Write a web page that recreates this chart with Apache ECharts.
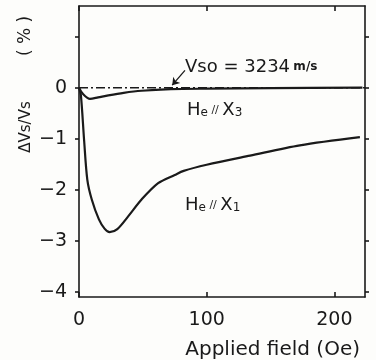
<!DOCTYPE html>
<html>
<head>
<meta charset="utf-8">
<script src="https://cdn.jsdelivr.net/npm/echarts@6/dist/echarts.min.js"></script>
<style>
  html, body { margin: 0; padding: 0; background: #fdfdfb; }
  #chart { width: 376px; height: 360px; }
</style>
</head>
<body>
<div id="chart"></div>
<script>
// He // X1 curve
const fieldX1 = [0, 1.5, 4, 6.5, 10, 15.6, 20, 24, 30, 38.5, 49, 62, 75, 82, 100, 134, 173, 220];
const dvX1 = [0, -0.15, -1.03, -1.8, -2.19, -2.58, -2.76, -2.83, -2.77, -2.52, -2.19, -1.87, -1.71, -1.63, -1.51, -1.33, -1.13, -0.97];

// He // X3 curve
const fieldX3 = [0, 3, 8.6, 15, 23, 35, 49, 72, 100, 150, 222];
const dvX3 = [0, -0.12, -0.22, -0.19, -0.15, -0.1, -0.06, -0.03, -0.02, -0.01, 0];

// reference level (Vs0)
const refField = [0, 224];
const refValue = [0, 0];

const xTicks = [0, 100, 200];
const yTicks = [1, 0, -1, -2, -3, -4];
const yLabels = [0, -1, -2, -3, -4];

const zip = (a, b) => a.map((v, i) => [v, b[i]]);
const fmtY = v => (v < 0 ? '\u2212' + (-v) : String(v));

const chart = echarts.init(document.getElementById('chart'));
const ink = '#1a1a1a';
const font = 'DejaVu Sans';

const axisBase = {
  axisLine: { show: true, onZero: false, lineStyle: { color: ink, width: 1.6 } },
  splitLine: { show: false }
};

const option = {
  backgroundColor: '#fdfdfb',
  animation: false,
  grid: { left: 79, right: 11, top: 6, bottom: 63 },
  xAxis: [
    Object.assign({}, axisBase, {
      type: 'value', position: 'bottom', min: 0, max: 224,
      axisTick: { inside: true, length: 5, customValues: xTicks, lineStyle: { color: ink, width: 1.6 } },
      axisLabel: { customValues: xTicks, color: ink, fontFamily: font, fontSize: 19, margin: 14 }
    }),
    Object.assign({}, axisBase, {
      type: 'value', position: 'top', min: 0, max: 224,
      axisTick: { inside: true, length: 5, customValues: xTicks, lineStyle: { color: ink, width: 1.6 } },
      axisLabel: { show: false }
    })
  ],
  yAxis: [
    Object.assign({}, axisBase, {
      type: 'value', position: 'left', min: -4.1, max: 1.6,
      axisTick: { inside: false, length: 4, customValues: yTicks, lineStyle: { color: ink, width: 1.6 } },
      axisLabel: { customValues: yLabels, formatter: fmtY, color: ink, fontFamily: font, fontSize: 19, margin: 12 }
    }),
    Object.assign({}, axisBase, {
      type: 'value', position: 'right', min: -4.1, max: 1.6,
      axisTick: { inside: false, length: 4, customValues: yTicks, lineStyle: { color: ink, width: 1.6 } },
      axisLabel: { show: false }
    })
  ],
  series: [
    {
      name: 'Vs0', type: 'line', data: zip(refField, refValue), symbol: 'none',
      lineStyle: { color: ink, width: 1.6, type: [9, 3, 2, 3] },
      markLine: {
        silent: true, symbol: ['none', 'arrow'], symbolSize: 7,
        label: { show: false },
        lineStyle: { color: ink, width: 1.3, type: 'solid' },
        data: [[{ coord: [83, 0.34] }, { coord: [73, 0.05] }]]
      }
    },
    {
      name: 'He // X3', type: 'line', data: zip(fieldX3, dvX3), symbol: 'none', smooth: 0.3,
      lineStyle: { color: ink, width: 2.2 }
    },
    {
      name: 'He // X1', type: 'line', data: zip(fieldX1, dvX1), symbol: 'none', smooth: 0.3,
      lineStyle: { color: ink, width: 2.2 }
    }
  ],
  graphic: [
    { type: 'text', x: 26, y: 127, rotation: Math.PI / 2,
      style: { text: '\u0394Vs/Vs', font: '15px ' + font, fill: ink, align: 'center', verticalAlign: 'middle' } },
    { type: 'text', x: 26, y: 36, rotation: Math.PI / 2,
      style: { text: '( % )', font: '17px ' + font, fill: ink, align: 'center', verticalAlign: 'middle' } },
    { type: 'text', x: 360, y: 350,
      style: { text: 'Applied field (Oe)', font: '20px ' + font, fill: ink, align: 'right', verticalAlign: 'middle' } },
    { type: 'text', x: 185, y: 67,
      style: {
        text: '{a|Vso = 3234} {b|m/s}', fill: ink, align: 'left', verticalAlign: 'middle',
        rich: {
          a: { fontFamily: font, fontSize: 18, fill: ink },
          b: { fontFamily: font, fontSize: 12, fontWeight: 'bold', fill: ink }
        }
      } },
    { type: 'text', x: 187, y: 110,
      style: {
        text: '{a|H}{s|e}{p| // }{a|X}{s|3}', fill: ink, align: 'left', verticalAlign: 'middle',
        rich: {
          a: { fontFamily: font, fontSize: 18, fill: ink },
          s: { fontFamily: font, fontSize: 12, fill: ink, verticalAlign: 'bottom' },
          p: { fontFamily: font, fontSize: 11, fill: ink }
        }
      } },
    { type: 'text', x: 185, y: 205,
      style: {
        text: '{a|H}{s|e}{p| // }{a|X}{s|1}', fill: ink, align: 'left', verticalAlign: 'middle',
        rich: {
          a: { fontFamily: font, fontSize: 18, fill: ink },
          s: { fontFamily: font, fontSize: 12, fill: ink, verticalAlign: 'bottom' },
          p: { fontFamily: font, fontSize: 11, fill: ink }
        }
      } }
  ]
};

chart.setOption(option);
</script>
</body>
</html>
